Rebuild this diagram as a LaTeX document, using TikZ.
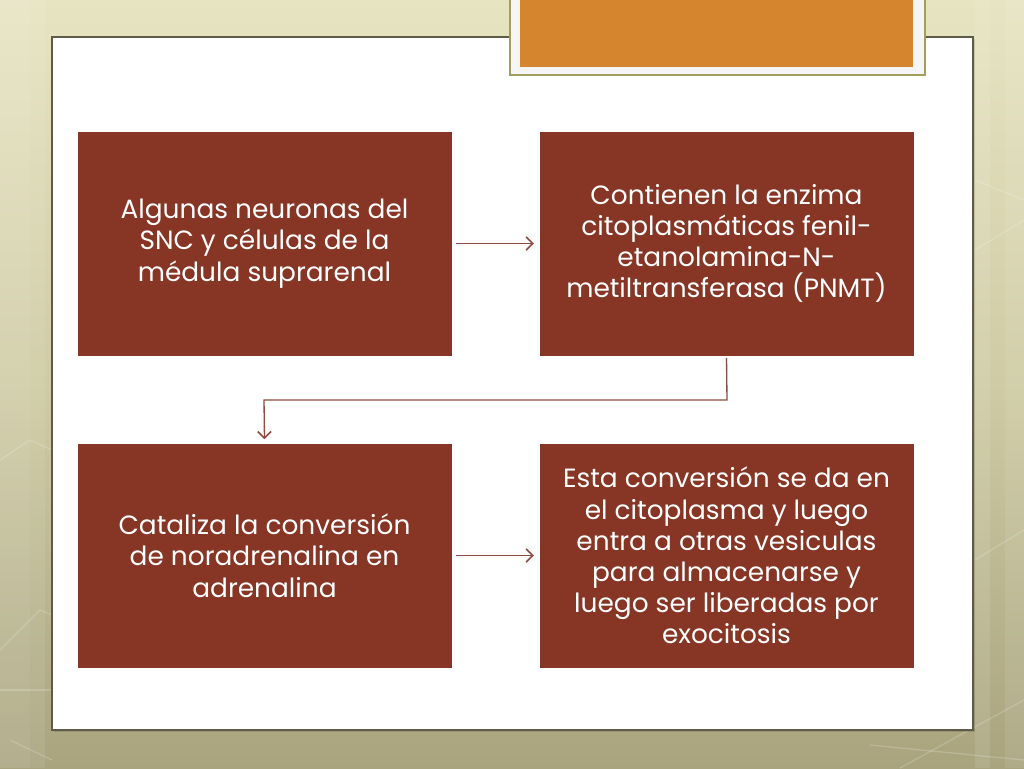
\documentclass[tikz,border=0pt]{standalone}
\usepackage{fontspec}
\setmainfont{Poppins}
\usetikzlibrary{arrows.meta}
\definecolor{boxred}{HTML}{873524}
\definecolor{arrowc}{HTML}{8E4A3E}
\definecolor{orangec}{HTML}{D5852E}
\definecolor{bgtop}{HTML}{E7E4C2}
\definecolor{bgmid}{HTML}{CFCBA4}
\definecolor{bgbot}{HTML}{A9A47E}
\definecolor{panelline}{HTML}{5E5C48}
\definecolor{olivebord}{HTML}{A39E5A}
\tikzset{
  every picture/.style={x=0.75pt,y=-0.75pt},
  stepbox/.style={fill=boxred,draw=none,text=white,align=center,font=\fontsize{19.8}{23.4}\selectfont,minimum width=280.5pt,minimum height=168pt,inner sep=0pt},
  conn/.style={draw=arrowc,line width=1pt,-{Straight Barb[length=5pt,width=10pt,line width=1.2pt]}},
  faint/.style={draw=white,opacity=0.18,line width=1pt}
}
\begin{document}
\begin{tikzpicture}
\useasboundingbox (0,0) rectangle (1024,768);
% background
\shade[top color=bgtop,bottom color=bgbot,middle color=bgmid] (0,0) rectangle (1024,768);
\fill[white,opacity=0.12] (0,0) rectangle (30,768);
\fill[white,opacity=0.08] (30,0) rectangle (45,768);
\fill[white,opacity=0.1] (975,0) rectangle (990,768);
\fill[white,opacity=0.08] (1005,0) rectangle (1024,768);
% faint decorative lines
\draw[faint] (0,650) -- (40,610) -- (52,615);
\draw[faint] (0,690) -- (52,690);
\draw[faint] (10,740) -- (52,760);
\draw[faint] (0,460) -- (30,440) -- (52,450);
\draw[faint] (900,768) -- (1024,700);
\draw[faint] (870,745) -- (1024,760);
\draw[faint] (975,560) -- (1024,530);
\draw[faint] (975,250) -- (1024,220);
\draw[faint] (975,180) -- (1024,200);
% white panel
\fill[black,opacity=0.12] (54,39) rectangle (975,732);
\draw[panelline,fill=white,line width=0.8pt] (52,37) rectangle (973,730);
% orange title box
\draw[olivebord,fill=white!96!black,line width=1.2pt] (510,-5) rectangle (925,75);
\fill[orangec] (520,-5) rectangle (913,67);
% step boxes
\node[stepbox] (a) at (264.5,243.5) {Algunas neuronas del\\SNC y células de la\\médula suprarenal};
\node[stepbox] (b) at (726.5,243.5) {Contienen la enzima\\citoplasmáticas fenil-\\etanolamina-N-\\metiltransferasa (PNMT)};
\node[stepbox] (c) at (264.5,555.5) {Cataliza la conversión\\de noradrenalina en\\adrenalina};
\node[stepbox] (d) at (726.5,555.5) {Esta conversión se da en\\el citoplasma y luego\\entra a otras vesiculas\\para almacenarse y\\luego ser liberadas por\\exocitosis};
% connectors
\coordinate (bend1) at (727,400);
\coordinate (bend2) at (264,400);
\draw[conn] ([xshift=3pt]a.east) -- ([xshift=-4pt]b.west);
\draw[conn] ([yshift=-1.5pt]b.south) -- (bend1) -- (bend2) -- ([yshift=3pt]c.north);
\draw[conn] ([xshift=3pt]c.east) -- ([xshift=-4pt]d.west);
\end{tikzpicture}
\end{document}
